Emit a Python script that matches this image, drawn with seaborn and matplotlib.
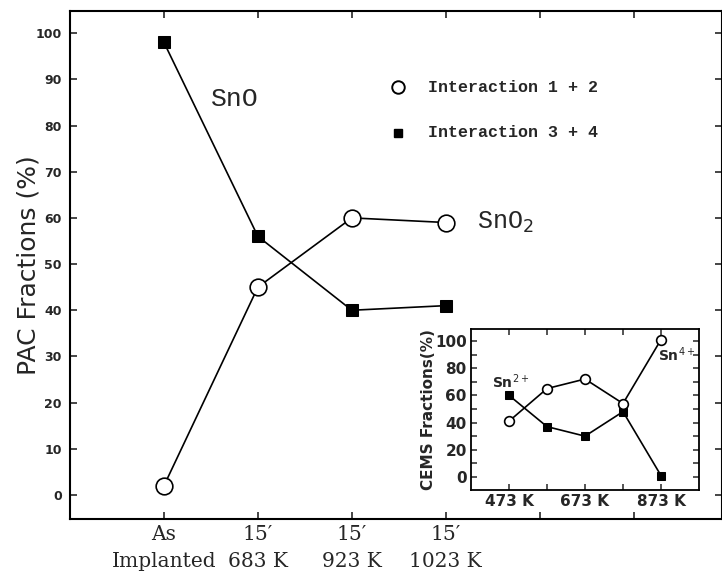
import matplotlib
matplotlib.use("Agg")
import matplotlib.pyplot as plt
import seaborn as sns
import pandas as pd
import numpy as np

# ---- data ----
categories = ["As\nImplanted", "15\u2032\n683 K", "15\u2032\n923 K", "15\u2032\n1023 K"]
pac_int12 = [2, 45, 60, 59]
pac_int34 = [98, 56, 40, 41]

cems_temps = [473, 573, 673, 773, 873]
cems_sn4 = [41, 65, 72, 54, 101]
cems_sn2 = [60, 37, 30, 48, 1]
cems_tick_labels = ["473 K", "", "673 K", "", "873 K"]

sns.set_theme(style="ticks")
plt.rcParams["font.family"] = ["Liberation Mono", "DejaVu Sans Mono"]

fig = plt.figure(figsize=(7.22, 5.74), dpi=100)
ax = fig.add_axes([70 / 722, 1 - 519 / 574, 1 - 70 / 722, (519 - 11) / 574])

pos = list(range(len(categories)))
df = pd.DataFrame({"x": pos, "i12": pac_int12, "i34": pac_int34})

sns.lineplot(data=df, x="x", y="i34", ax=ax, color="black", lw=1.2,
             marker="s", markersize=8, markerfacecolor="black",
             markeredgecolor="black")
sns.lineplot(data=df, x="x", y="i12", ax=ax, color="black", lw=1.2,
             marker="o", markersize=12, markerfacecolor="white",
             markeredgecolor="black", markeredgewidth=1.2)

ax.set_xlim(-1.0, 5.94)
ax.set_ylim(-5.2, 104.8)
ax.set_xticks(range(6))
ax.set_xticklabels(categories + ["", ""], fontsize=14.5, linespacing=1.55,
                   family="DejaVu Serif")
ax.set_yticks(range(0, 101, 10))
ax.set_yticklabels([str(v) for v in range(0, 101, 10)], fontsize=9,
                   family="DejaVu Sans", fontweight="bold")
ax.tick_params(axis="both", direction="in", length=5, width=1.2,
               top=True, right=True, pad=6)
ax.tick_params(axis="x", pad=4)
ax.set_xlabel("")
ax.set_ylabel("PAC Fractions (%)", fontsize=18, family="DejaVu Sans")
ax.yaxis.set_label_coords((41 - 70) / 652, 0.5)
for s in ax.spines.values():
    s.set_linewidth(1.5)
    s.set_color("black")

ax.text(0.5, 85.8, "SnO", fontsize=19, ha="left", va="center")
ax.text(3.33, 59.0, "SnO$_2$", fontsize=18, ha="left", va="center")

# legend as markers + text
ax.plot([2.49], [88.3], marker="o", markersize=9, markerfacecolor="white",
        markeredgecolor="black", markeredgewidth=1.4, ls="none")
ax.plot([2.49], [78.4], marker="s", markersize=6, color="black", ls="none")
ax.text(2.81, 88.3, "Interaction 1 + 2", fontsize=12, va="center",
        fontweight="bold")
ax.text(2.81, 78.4, "Interaction 3 + 4", fontsize=12, va="center",
        fontweight="bold")

# ---- inset ----
ax2 = fig.add_axes([471 / 722, 1 - 490 / 574, (699 - 471) / 722,
                    (490 - 329) / 574])
df2 = pd.DataFrame({"T": cems_temps, "sn4": cems_sn4, "sn2": cems_sn2})
sns.lineplot(data=df2, x="T", y="sn2", ax=ax2, color="black", lw=1.2,
             marker="s", markersize=5.5, markerfacecolor="black",
             markeredgecolor="black")
sns.lineplot(data=df2, x="T", y="sn4", ax=ax2, color="black", lw=1.2,
             marker="o", markersize=7, markerfacecolor="white",
             markeredgecolor="black", markeredgewidth=1.2)
ax2.set_xlim(373, 973)
ax2.set_ylim(-9.6, 108.8)
ax2.set_xticks(cems_temps)
ax2.set_xticklabels(cems_tick_labels, fontsize=11, family="DejaVu Sans",
                    fontweight="bold")
ax2.set_yticks(range(0, 101, 20))
ax2.set_yticklabels([str(v) for v in range(0, 101, 20)], fontsize=11,
                    family="DejaVu Sans", fontweight="bold")
ax2.set_yticks(range(10, 101, 20), minor=True)
ax2.tick_params(axis="both", which="both", direction="in", length=4,
                width=1.1, top=True, right=True, pad=3)
ax2.set_xlabel("")
ax2.set_ylabel("CEMS Fractions(%)", fontsize=11, family="DejaVu Sans",
               fontweight="bold")
ax2.yaxis.set_label_coords((436 - 471) / 228, 0.5)
for s in ax2.spines.values():
    s.set_linewidth(1.3)
    s.set_color("black")
ax2.text(478, 70, "Sn$^{2+}$", fontsize=10, family="DejaVu Sans",
         fontweight="bold", ha="center", va="center")
ax2.text(866, 90, "Sn$^{4+}$", fontsize=10, family="DejaVu Sans",
         fontweight="bold", ha="left", va="center")

fig.savefig("out.png", dpi=100)
